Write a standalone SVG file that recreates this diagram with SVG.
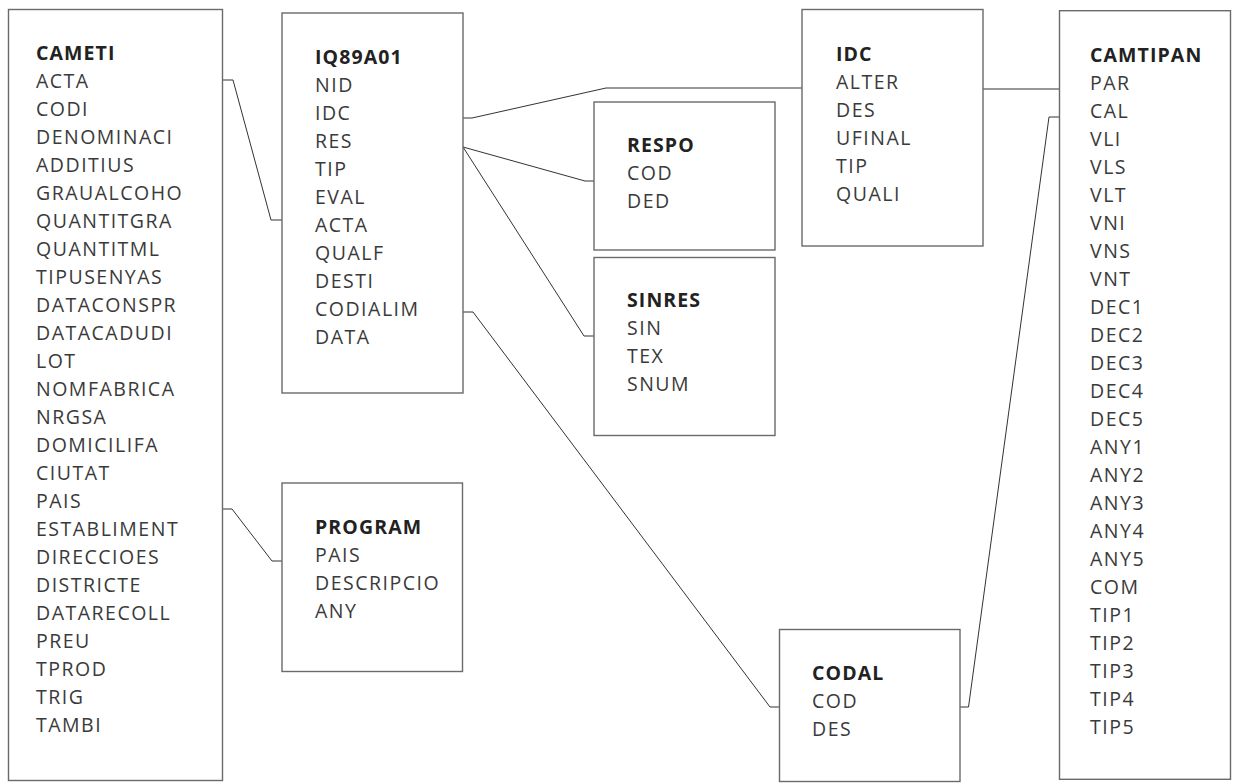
<svg xmlns="http://www.w3.org/2000/svg" width="1237" height="783" viewBox="0 0 1237 783">
<style>
.box{fill:#fff;stroke:#6a6a6a;stroke-width:1.4}
.t{font-family:"Open Sans","Noto Sans","Liberation Sans",sans-serif;font-size:19.5px;fill:#3a3a3a;letter-spacing:1.5px}
.h{font-weight:bold;fill:#222;letter-spacing:1.1px}
.c{fill:none;stroke:#333;stroke-width:1}
</style>
<rect width="1237" height="783" fill="#fff"/>
<g id="connectors">
<path class="c" d="M223 80 H233 L271 220 H282"/>
<path class="c" d="M223 509 H232 L272 561 H282"/>
<path class="c" d="M463 118 H472 L606 88 H802"/>
<path class="c" d="M463 147 L585 181 H594"/>
<path class="c" d="M463 147 L584 336 H594"/>
<path class="c" d="M463 312 H473 L770 707 H779.5"/>
<path class="c" d="M960 707 H968.5 L1049 117 H1059.5"/>
<path class="c" d="M983 89 H1059.5"/>
</g>
<g id="CAMETI">
<rect class="box" x="8.5" y="9.5" width="214" height="771"/>
<text class="t" x="36" y="60"><tspan class="h">CAMETI</tspan><tspan x="36" dy="28">ACTA</tspan><tspan x="36" dy="28">CODI</tspan><tspan x="36" dy="28">DENOMINACI</tspan><tspan x="36" dy="28">ADDITIUS</tspan><tspan x="36" dy="28">GRAUALCOHO</tspan><tspan x="36" dy="28">QUANTITGRA</tspan><tspan x="36" dy="28">QUANTITML</tspan><tspan x="36" dy="28">TIPUSENYAS</tspan><tspan x="36" dy="28">DATACONSPR</tspan><tspan x="36" dy="28">DATACADUDI</tspan><tspan x="36" dy="28">LOT</tspan><tspan x="36" dy="28">NOMFABRICA</tspan><tspan x="36" dy="28">NRGSA</tspan><tspan x="36" dy="28">DOMICILIFA</tspan><tspan x="36" dy="28">CIUTAT</tspan><tspan x="36" dy="28">PAIS</tspan><tspan x="36" dy="28">ESTABLIMENT</tspan><tspan x="36" dy="28">DIRECCIOES</tspan><tspan x="36" dy="28">DISTRICTE</tspan><tspan x="36" dy="28">DATARECOLL</tspan><tspan x="36" dy="28">PREU</tspan><tspan x="36" dy="28">TPROD</tspan><tspan x="36" dy="28">TRIG</tspan><tspan x="36" dy="28">TAMBI</tspan></text>
</g>
<g id="IQ89A01">
<rect class="box" x="282" y="13" width="181" height="380"/>
<text class="t" x="315" y="63.7"><tspan class="h">IQ89A01</tspan><tspan x="315" dy="28">NID</tspan><tspan x="315" dy="28">IDC</tspan><tspan x="315" dy="28">RES</tspan><tspan x="315" dy="28">TIP</tspan><tspan x="315" dy="28">EVAL</tspan><tspan x="315" dy="28">ACTA</tspan><tspan x="315" dy="28">QUALF</tspan><tspan x="315" dy="28">DESTI</tspan><tspan x="315" dy="28">CODIALIM</tspan><tspan x="315" dy="28">DATA</tspan></text>
</g>
<g id="PROGRAM">
<rect class="box" x="282" y="483" width="180.5" height="188.5"/>
<text class="t" x="315" y="533.5"><tspan class="h">PROGRAM</tspan><tspan x="315" dy="28">PAIS</tspan><tspan x="315" dy="28">DESCRIPCIO</tspan><tspan x="315" dy="28">ANY</tspan></text>
</g>
<g id="RESPO">
<rect class="box" x="594" y="102" width="181" height="148"/>
<text class="t" x="627" y="152"><tspan class="h">RESPO</tspan><tspan x="627" dy="28">COD</tspan><tspan x="627" dy="28">DED</tspan></text>
</g>
<g id="SINRES">
<rect class="box" x="594" y="257.5" width="181" height="178"/>
<text class="t" x="627" y="307"><tspan class="h">SINRES</tspan><tspan x="627" dy="28">SIN</tspan><tspan x="627" dy="28">TEX</tspan><tspan x="627" dy="28">SNUM</tspan></text>
</g>
<g id="IDC">
<rect class="box" x="802" y="9.5" width="181" height="236.5"/>
<text class="t" x="836" y="60.7"><tspan class="h">IDC</tspan><tspan x="836" dy="28">ALTER</tspan><tspan x="836" dy="28">DES</tspan><tspan x="836" dy="28">UFINAL</tspan><tspan x="836" dy="28">TIP</tspan><tspan x="836" dy="28">QUALI</tspan></text>
</g>
<g id="CODAL">
<rect class="box" x="779.5" y="629.5" width="180.5" height="152"/>
<text class="t" x="812" y="680"><tspan class="h">CODAL</tspan><tspan x="812" dy="28">COD</tspan><tspan x="812" dy="28">DES</tspan></text>
</g>
<g id="CAMTIPAN">
<rect class="box" x="1059.5" y="10.7" width="171" height="768.6"/>
<text class="t" x="1090" y="61.5"><tspan class="h">CAMTIPAN</tspan><tspan x="1090" dy="28">PAR</tspan><tspan x="1090" dy="28">CAL</tspan><tspan x="1090" dy="28">VLI</tspan><tspan x="1090" dy="28">VLS</tspan><tspan x="1090" dy="28">VLT</tspan><tspan x="1090" dy="28">VNI</tspan><tspan x="1090" dy="28">VNS</tspan><tspan x="1090" dy="28">VNT</tspan><tspan x="1090" dy="28">DEC1</tspan><tspan x="1090" dy="28">DEC2</tspan><tspan x="1090" dy="28">DEC3</tspan><tspan x="1090" dy="28">DEC4</tspan><tspan x="1090" dy="28">DEC5</tspan><tspan x="1090" dy="28">ANY1</tspan><tspan x="1090" dy="28">ANY2</tspan><tspan x="1090" dy="28">ANY3</tspan><tspan x="1090" dy="28">ANY4</tspan><tspan x="1090" dy="28">ANY5</tspan><tspan x="1090" dy="28">COM</tspan><tspan x="1090" dy="28">TIP1</tspan><tspan x="1090" dy="28">TIP2</tspan><tspan x="1090" dy="28">TIP3</tspan><tspan x="1090" dy="28">TIP4</tspan><tspan x="1090" dy="28">TIP5</tspan></text>
</g>
</svg>
